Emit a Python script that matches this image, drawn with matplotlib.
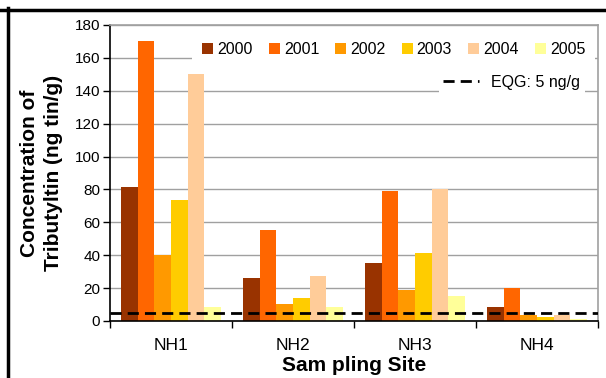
import matplotlib
matplotlib.use("Agg")
import matplotlib.pyplot as plt
import numpy as np
from matplotlib.patches import Patch
from matplotlib.lines import Line2D

plt.rcParams['font.family'] = ['Liberation Sans', 'DejaVu Sans']

sites = ["NH1", "NH2", "NH3", "NH4"]
years = ["2000", "2001", "2002", "2003", "2004", "2005"]
v2000 = [81.5, 26, 35.3, 8.5]
v2001 = [170.3, 55.3, 79, 20]
v2002 = [40, 10.3, 18.9, 3.6]
v2003 = [73.6, 14, 41.4, 2.4]
v2004 = [150.2, 27.4, 80, 3.6]
v2005 = [8.5, 8.5, 15.2, 1.2]
series = [v2000, v2001, v2002, v2003, v2004, v2005]
colors = ["#993300", "#FF6600", "#FF9900", "#FFCC00", "#FFCC99", "#FFFF99"]
eqg = 5
yticks = [0, 20, 40, 60, 80, 100, 120, 140, 160, 180]

fig = plt.figure(figsize=(6.06, 3.78), dpi=100)
ax = fig.add_axes([110/606, 1-321/378, 488/606, 296/378])

x = np.arange(len(sites))
bw = 0.82 / 6
for i, (vals, c) in enumerate(zip(series, colors)):
    ax.bar(x - 0.41 + bw * (i + 0.5), vals, width=bw, color=c, zorder=2, linewidth=0)

ax.axhline(eqg, color='black', linestyle=(0, (4, 2.2)), linewidth=2, zorder=3)

ax.set_xlim(-0.5, len(sites) - 0.5)
ax.set_ylim(0, 180)
ax.set_yticks(yticks)
ax.set_yticklabels([str(t) for t in yticks], fontsize=11)
ax.yaxis.grid(True, color='#A0A0A0', linewidth=1, zorder=0)
ax.set_axisbelow(True)

ax.set_xticks(np.arange(-0.5, len(sites)))
ax.set_xticklabels([])
ax.set_xticks(x, minor=True)
ax.set_xticklabels(sites, minor=True, fontsize=12.5)
ax.tick_params(axis='x', which='minor', length=0, pad=12)
ax.tick_params(axis='x', which='major', length=5, direction='out', width=1)
ax.tick_params(axis='y', length=5, direction='out', width=1, pad=2)

for s in ['left', 'bottom']:
    ax.spines[s].set_color('black')
    ax.spines[s].set_linewidth(1.2)
for s in ['top', 'right']:
    ax.spines[s].set_color('#A0A0A0')
    ax.spines[s].set_linewidth(1.2)

ax.set_ylabel("Concentration of\nTributyltin (ng tin/g)", fontsize=15, fontweight='bold', linespacing=1.3)
ax.yaxis.set_label_coords(-47/488, 0.5)
ax.set_xlabel("Sam pling Site", fontsize=15, fontweight='bold')
ax.xaxis.set_label_coords(0.5, -35/296)

handles = [Patch(facecolor=c, edgecolor='none', label=y) for c, y in zip(colors, years)]
leg1 = ax.legend(handles=handles, ncol=6, loc='upper right', bbox_to_anchor=(1.0, 0.985),
                 fontsize=11.5, frameon=True, framealpha=1, edgecolor='white', fancybox=False,
                 handlelength=0.7, handleheight=0.7, handletextpad=0.25, columnspacing=1.0,
                 borderpad=0.6, borderaxespad=0.2)
leg1.get_frame().set_linewidth(0)
ax.add_artist(leg1)
leg2 = ax.legend(handles=[Line2D([0], [0], color='black', linestyle=(0, (4, 2.2)), linewidth=2, label="EQG: 5 ng/g")],
                 loc='upper right', bbox_to_anchor=(0.99, 0.875), fontsize=11.5, frameon=True, framealpha=1,
                 fancybox=False, handlelength=2.2, handletextpad=0.8, borderpad=0.3)
leg2.get_frame().set_linewidth(0)

fig.add_artist(Line2D([0, 1], [1-9.5/378, 1-9.5/378], color='black', linewidth=2.5, transform=fig.transFigure))
fig.add_artist(Line2D([7.5/606, 7.5/606], [0, 1-8/378], color='black', linewidth=2.5, transform=fig.transFigure))

fig.savefig("out.png", dpi=100)
